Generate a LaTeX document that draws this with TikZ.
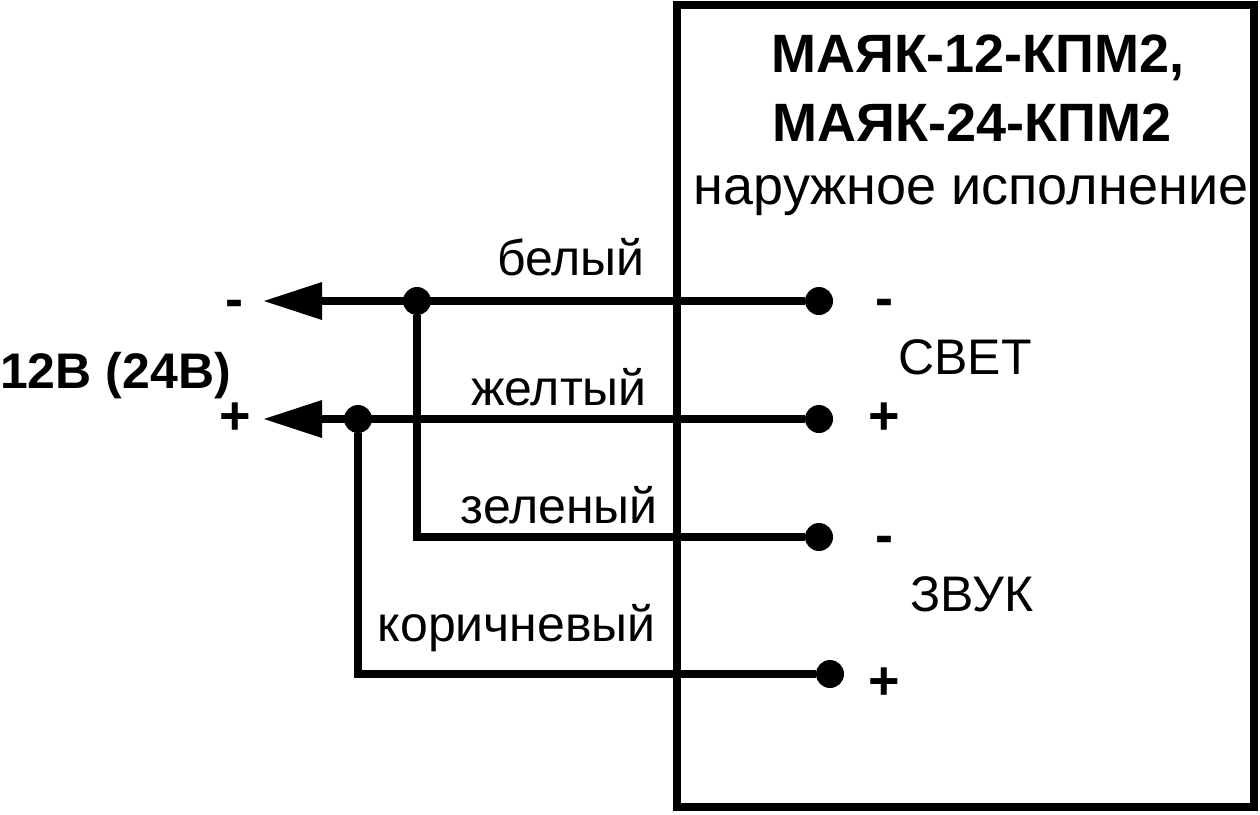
\documentclass[tikz,border=0pt]{standalone}
\usepackage{fontspec}
\setmainfont{Liberation Sans}
\usetikzlibrary{calc}
\tikzset{
  wire/.style={line width=8.5pt},
  dot/.style={fill,circle,inner sep=0pt,minimum size=28pt},
  txt/.style={inner sep=0pt,font=\fontsize{50}{50}\selectfont},
  big/.style={inner sep=0pt,font=\fontsize{54}{54}\selectfont},
  bold/.style={inner sep=0pt,font=\fontsize{54}{54}\selectfont\bfseries},
  boldsmall/.style={inner sep=0pt,font=\fontsize{50}{50}\selectfont\bfseries},
}
\begin{document}
\begin{tikzpicture}[x=1pt,y=-1pt]
  \useasboundingbox (0,0) rectangle (1260,814);
  \draw [line width=8pt] (677,5) rectangle (1254,807);

  % title
  \node (t1) [bold] at (978,58) {МАЯК-12-КПМ2,};
  \node (t2) [bold] at (972,123) {МАЯК-24-КПМ2};
  \node (t3) [big] at (971,196) {наружное исполнение};

  % terminals
  \node (c1) [dot] at (819,301) {};
  \node (c2) [dot] at (819,419) {};
  \node (c3) [dot] at (819,537) {};
  \node (c4) [dot] at (830,674) {};

  % junctions
  \node (j1) [dot] at (417,301) {};
  \node (j2) [dot] at (358,419) {};
  \coordinate (k1) at (417,537);
  \coordinate (k2) at (358,674);

  % arrow ends
  \coordinate (a1) at (322,301);
  \coordinate (a2) at (322,419);
  \coordinate (e1) at (264,301);
  \coordinate (e2) at (264,419);

  \draw [wire] (c1) -- (a1);
  \draw [wire] (c2) -- (a2);
  \draw [wire] (c3) -- (k1) -- (j1);
  \draw [wire] (c4) -- (k2) -- (j2);
  \fill (e1) -- ($(a1)+(0,-19)$) -- ($(a1)+(0,19)$) -- cycle;
  \fill (e2) -- ($(a2)+(0,-19)$) -- ($(a2)+(0,19)$) -- cycle;

  % wire names
  \node (w1) [txt,anchor=base east] at (645,275) {белый};
  \node (w2) [txt,anchor=base east] at (647,405) {желтый};
  \node (w3) [txt,anchor=base east] at (658,523) {зеленый};
  \node (w4) [txt,anchor=base east] at (656,641) {коричневый};

  % signs
  \node (s1) [bold] at (234,309) {-};
  \node (s2) [bold] at (235,419) {+};
  \node (p) [boldsmall,anchor=base west] at (0,388) {12В (24В)};
  \node (s3) [bold] at (884,308) {-};
  \node (s4) [bold] at (884,419) {+};
  \node (s5) [bold] at (884,545) {-};
  \node (s6) [bold] at (884,684) {+};
  \node (n1) [txt] at (965,357) {СВЕТ};
  \node (n2) [txt] at (972,594) {ЗВУК};
\end{tikzpicture}
\end{document}
